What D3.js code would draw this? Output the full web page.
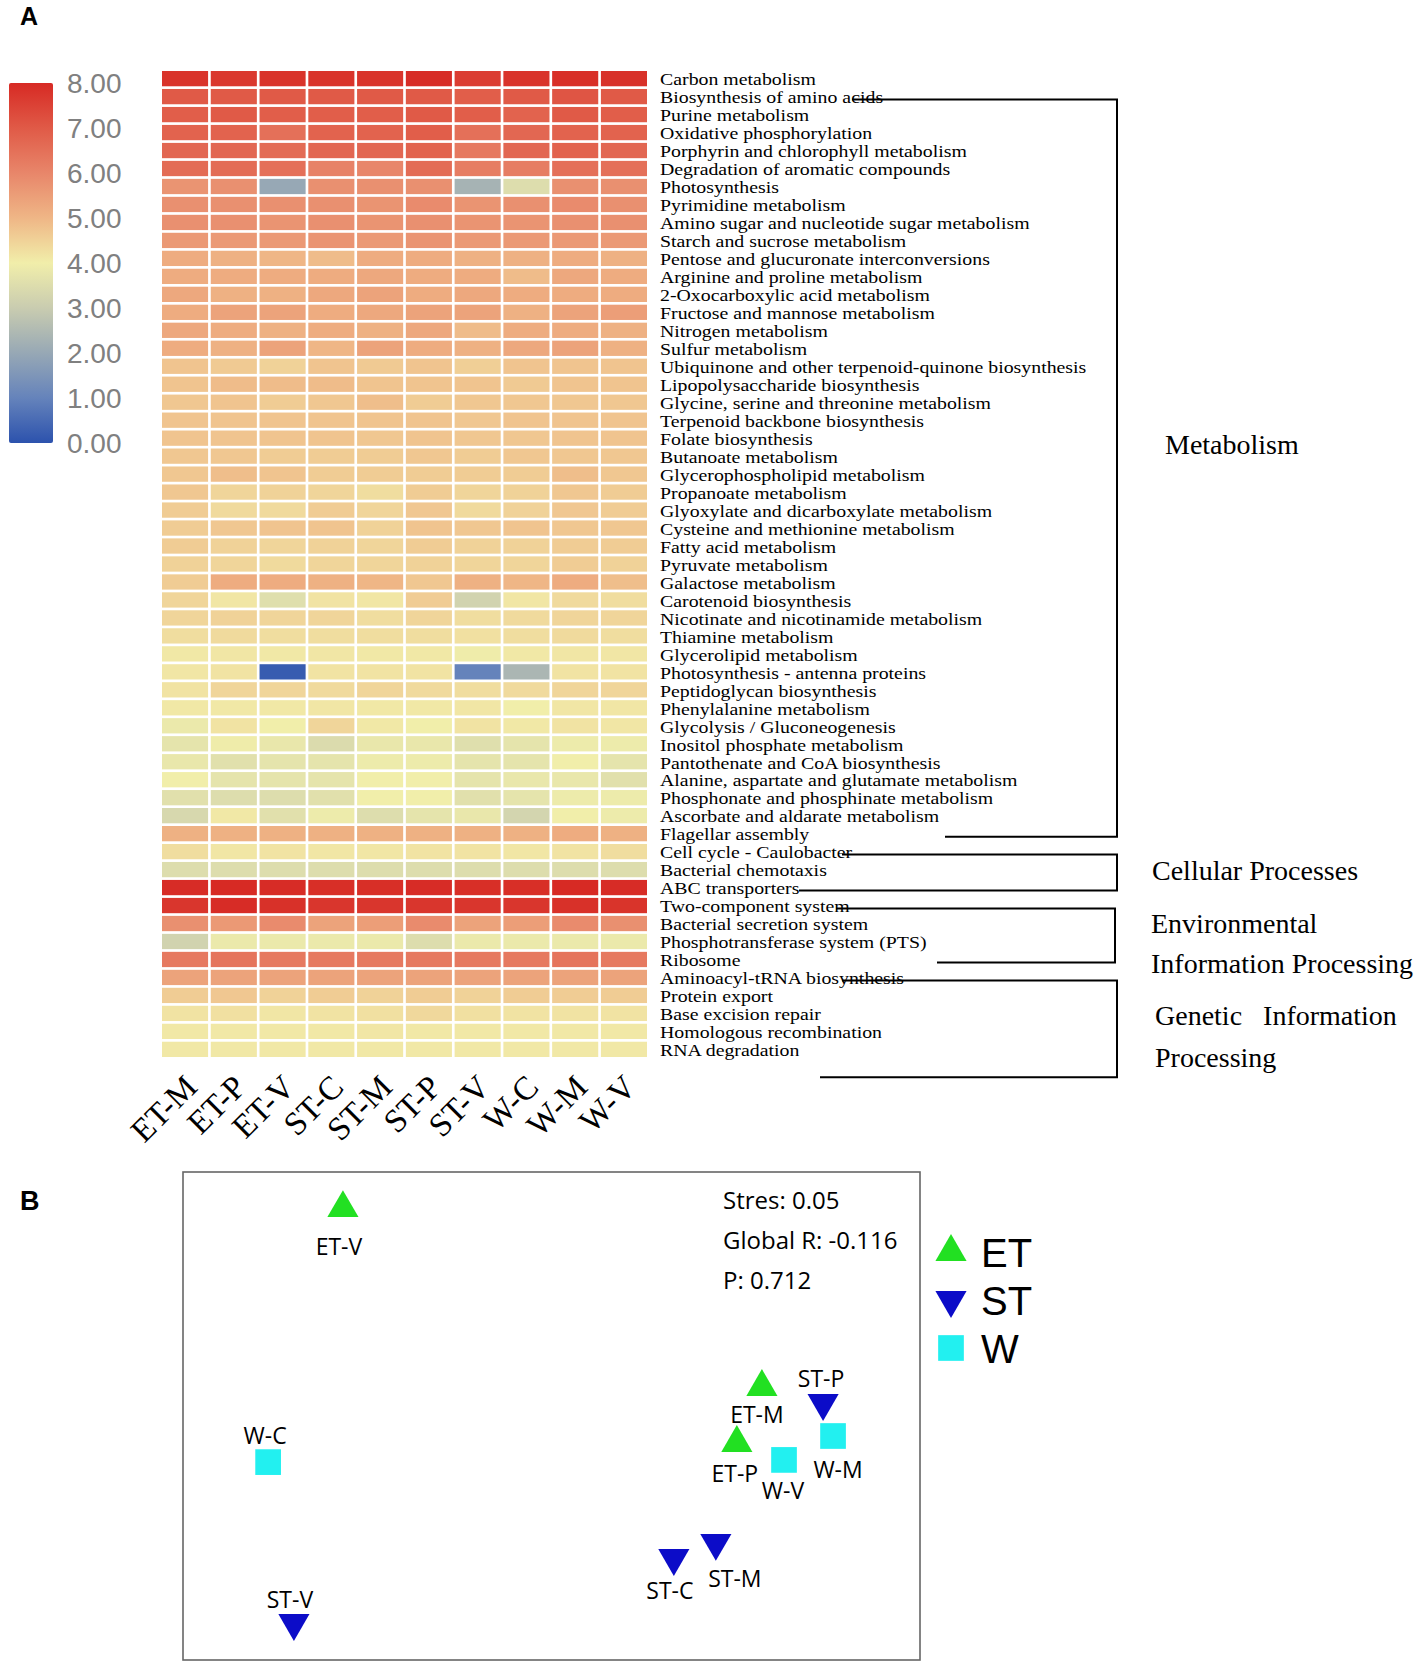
<!DOCTYPE html>
<html>
<head>
<meta charset="utf-8">
<script src="https://cdn.jsdelivr.net/npm/d3@7"></script>
<style>
	body { margin: 0; background: #fff; }
	svg { display: block; }
</style>
</head>
<body>
<div id="chart"></div>
<script>
// ---- data ----
var samples = ["ET-M", "ET-P", "ET-V", "ST-C", "ST-M", "ST-P", "ST-V", "W-C", "W-M", "W-V"];

var pathways = [
	"Carbon metabolism", "Biosynthesis of amino acids", "Purine metabolism", "Oxidative phosphorylation",
	"Porphyrin and chlorophyll metabolism", "Degradation of aromatic compounds", "Photosynthesis",
	"Pyrimidine metabolism", "Amino sugar and nucleotide sugar metabolism", "Starch and sucrose metabolism",
	"Pentose and glucuronate interconversions", "Arginine and proline metabolism", "2-Oxocarboxylic acid metabolism",
	"Fructose and mannose metabolism", "Nitrogen metabolism", "Sulfur metabolism",
	"Ubiquinone and other terpenoid-quinone biosynthesis", "Lipopolysaccharide biosynthesis",
	"Glycine, serine and threonine metabolism", "Terpenoid backbone biosynthesis", "Folate biosynthesis",
	"Butanoate metabolism", "Glycerophospholipid metabolism", "Propanoate metabolism",
	"Glyoxylate and dicarboxylate metabolism", "Cysteine and methionine metabolism", "Fatty acid metabolism",
	"Pyruvate metabolism", "Galactose metabolism", "Carotenoid biosynthesis", "Nicotinate and nicotinamide metabolism",
	"Thiamine metabolism", "Glycerolipid metabolism", "Photosynthesis - antenna proteins", "Peptidoglycan biosynthesis",
	"Phenylalanine metabolism", "Glycolysis / Gluconeogenesis", "Inositol phosphate metabolism",
	"Pantothenate and CoA biosynthesis", "Alanine, aspartate and glutamate metabolism",
	"Phosphonate and phosphinate metabolism", "Ascorbate and aldarate metabolism", "Flagellar assembly",
	"Cell cycle - Caulobacter", "Bacterial chemotaxis", "ABC transporters", "Two-component system",
	"Bacterial secretion system", "Phosphotransferase system (PTS)", "Ribosome", "Aminoacyl-tRNA biosynthesis",
	"Protein export", "Base excision repair", "Homologous recombination", "RNA degradation"
];

// one row per pathway, one value per sample (log abundance, 0-8)
var abundance = [
	[7.8, 7.7, 7.8, 7.8, 7.8, 7.95, 7.6, 7.8, 7.9, 7.85],
	[7.0, 7.0, 7.0, 7.0, 7.0, 7.0, 6.9, 7.0, 7.1, 7.0],
	[6.9, 7.0, 6.9, 6.9, 6.9, 7.0, 6.9, 6.8, 7.0, 6.9],
	[6.8, 6.8, 6.5, 6.8, 6.8, 6.9, 6.5, 6.7, 6.8, 6.8],
	[6.7, 6.7, 6.6, 6.7, 6.7, 6.8, 6.3, 6.7, 6.8, 6.7],
	[6.6, 6.6, 6.5, 6.1, 6.0, 6.6, 6.2, 6.2, 6.5, 6.5],
	[5.7, 5.8, 2.0, 5.8, 5.8, 5.8, 2.3, 3.5, 5.8, 5.8],
	[5.8, 5.8, 5.8, 5.8, 5.7, 5.9, 5.7, 5.8, 5.9, 5.8],
	[5.8, 5.8, 5.7, 5.8, 5.7, 5.8, 5.7, 5.7, 5.8, 5.8],
	[5.6, 5.6, 5.6, 5.7, 5.6, 5.7, 5.6, 5.6, 5.6, 5.6],
	[5.2, 5.1, 5.0, 4.9, 5.2, 5.2, 5.1, 5.1, 5.2, 5.1],
	[5.2, 5.2, 5.2, 5.2, 5.3, 5.2, 5.2, 4.9, 5.3, 5.2],
	[5.3, 5.1, 5.1, 5.3, 5.4, 5.2, 5.3, 5.2, 5.2, 5.2],
	[5.2, 5.4, 5.4, 5.2, 5.3, 5.4, 5.4, 5.1, 5.4, 5.5],
	[5.3, 5.2, 5.1, 5.2, 5.1, 5.3, 4.9, 5.2, 5.2, 5.1],
	[5.2, 5.1, 5.4, 5.0, 5.4, 5.2, 5.1, 5.3, 5.4, 5.1],
	[4.75, 4.65, 4.5, 4.75, 4.65, 4.75, 4.55, 4.75, 4.75, 4.75],
	[4.75, 4.9, 4.9, 4.9, 4.75, 4.75, 4.75, 4.65, 4.75, 4.75],
	[4.7, 4.75, 4.6, 4.7, 4.85, 4.6, 4.7, 4.7, 4.7, 4.7],
	[4.75, 4.75, 4.75, 4.75, 4.75, 4.75, 4.7, 4.75, 4.75, 4.75],
	[4.75, 4.75, 4.75, 4.75, 4.7, 4.75, 4.7, 4.7, 4.75, 4.75],
	[4.7, 4.7, 4.6, 4.6, 4.6, 4.7, 4.6, 4.7, 4.7, 4.7],
	[4.7, 4.85, 4.75, 4.6, 4.6, 4.6, 4.6, 4.6, 4.85, 4.7],
	[4.7, 4.45, 4.5, 4.45, 4.3, 4.6, 4.45, 4.5, 4.7, 4.6],
	[4.6, 4.35, 4.35, 4.6, 4.45, 4.7, 4.35, 4.5, 4.7, 4.6],
	[4.6, 4.7, 4.75, 4.75, 4.5, 4.75, 4.7, 4.75, 4.7, 4.7],
	[4.6, 4.5, 4.45, 4.5, 4.45, 4.6, 4.5, 4.5, 4.6, 4.6],
	[4.5, 4.45, 4.35, 4.45, 4.45, 4.5, 4.45, 4.45, 4.6, 4.5],
	[4.6, 5.2, 5.2, 5.1, 5.0, 4.7, 5.1, 5.0, 5.2, 4.85],
	[4.45, 4.15, 3.55, 4.2, 4.15, 4.6, 3.2, 4.15, 4.35, 4.3],
	[4.45, 4.5, 4.45, 4.45, 4.3, 4.45, 4.3, 4.35, 4.45, 4.45],
	[4.3, 4.35, 4.3, 4.3, 4.3, 4.3, 4.25, 4.3, 4.35, 4.3],
	[4.1, 4.15, 4.1, 4.15, 4.1, 4.1, 3.95, 4.1, 4.15, 4.15],
	[4.15, 4.2, 0.2, 4.2, 4.2, 4.2, 1.0, 2.4, 4.2, 4.2],
	[4.2, 4.45, 4.45, 4.35, 4.45, 4.35, 4.3, 4.35, 4.45, 4.45],
	[4.1, 4.1, 4.1, 4.15, 4.1, 4.1, 4.15, 4.0, 4.15, 4.15],
	[3.85, 4.2, 4.0, 4.45, 4.1, 4.0, 4.2, 4.1, 4.2, 4.15],
	[3.7, 3.95, 3.8, 3.45, 3.8, 3.8, 3.55, 3.7, 3.9, 3.9],
	[3.8, 3.6, 3.7, 3.7, 3.9, 3.9, 3.7, 3.7, 4.0, 3.7],
	[4.0, 3.7, 3.7, 3.7, 4.0, 4.0, 3.7, 3.8, 3.8, 3.6],
	[3.6, 3.5, 3.5, 3.6, 4.0, 4.0, 3.6, 3.7, 3.9, 3.9],
	[3.35, 4.1, 3.6, 3.9, 3.5, 3.7, 3.8, 3.25, 4.0, 3.9],
	[5.1, 5.1, 5.1, 5.1, 5.1, 5.1, 5.1, 5.1, 5.2, 5.1],
	[4.3, 4.15, 4.2, 4.15, 4.15, 4.2, 4.2, 4.15, 4.2, 4.3],
	[3.5, 3.5, 3.5, 3.5, 3.5, 3.5, 3.5, 3.5, 3.5, 3.5],
	[7.95, 8.0, 7.95, 7.9, 7.9, 7.95, 7.9, 7.9, 8.0, 7.95],
	[7.75, 7.95, 7.85, 7.75, 7.75, 7.75, 7.75, 7.75, 7.85, 7.8],
	[5.8, 5.6, 5.9, 5.4, 5.5, 5.9, 5.4, 5.5, 5.9, 5.8],
	[3.2, 3.85, 3.85, 3.85, 3.85, 3.5, 3.85, 3.85, 3.85, 3.85],
	[6.3, 6.4, 6.3, 6.3, 6.3, 6.3, 6.3, 6.3, 6.4, 6.3],
	[5.4, 5.4, 5.4, 5.4, 5.4, 5.4, 5.4, 5.4, 5.4, 5.4],
	[4.6, 4.7, 4.5, 4.6, 4.5, 4.6, 4.5, 4.6, 4.6, 4.6],
	[4.2, 4.25, 4.15, 4.2, 4.25, 4.4, 4.25, 4.2, 4.2, 4.2],
	[4.1, 4.1, 4.1, 4.1, 4.15, 4.1, 4.1, 4.1, 4.1, 4.1],
	[4.1, 4.1, 4.1, 4.1, 4.1, 4.1, 4.1, 4.1, 4.1, 4.1]
];

var legendTicks = [0, 1, 2, 3, 4, 5, 6, 7, 8];
var legendColors = ["#2c52ad", "#6583bb", "#97a8b5", "#c9ccb0", "#f1eeaa", "#efb686", "#e8866a", "#e05a47", "#d72a24"];

// KEGG level-1 groups, first and last pathway of each bracket
var groupLabels = [["Metabolism"], ["Cellular Processes"], ["Environmental", "Information Processing"], ["Genetic   Information", "Processing"]];
var groupFirst = ["Biosynthesis of amino acids", "Cell cycle - Caulobacter", "Two-component system", "Aminoacyl-tRNA biosynthesis"];
var groupLast = ["Flagellar assembly", "ABC transporters", "Ribosome", "RNA degradation"];

// NMDS ordination
var nmdsNames = ["ET-M", "ET-P", "ET-V", "ST-C", "ST-M", "ST-P", "ST-V", "W-C", "W-M", "W-V"];
var nmdsGroup = ["ET", "ET", "ET", "ST", "ST", "ST", "ST", "W", "W", "W"];
var nmdsX = [0.571, 0.503, -0.566, 0.332, 0.446, 0.737, -0.699, -0.769, 0.764, 0.631];
var nmdsY = [0.119, -0.111, 0.852, -0.582, -0.520, 0.053, -0.848, -0.189, -0.082, -0.180];
var statLines = ["Stres: 0.05", "Global R: -0.116", "P: 0.712"];
var groups = ["ET", "ST", "W"];

// ---- layout / style (not data) ----
var bracketLayout = [
	{topX: 852, botX: 945, lineX: 1117, text: [[1165, 444]]},
	{topX: 842, botX: 799, lineX: 1117, text: [[1152, 870]]},
	{topX: 836, botX: 937, lineX: 1115, text: [[1151, 923], [1151, 963]]},
	{topX: 842, botX: 820, lineX: 1117, text: [[1155, 1015], [1155, 1057]], bottomPad: 25}
];
var labelOffset = {
	"ET-V": [-4, 47], "ET-M": [-5, 36], "ET-P": [-2, 39], "ST-P": [-2, -16], "W-M": [5, 42],
	"W-V": [-1, 39], "W-C": [-3, -18], "ST-V": [-4, -15], "ST-C": [-4, 41], "ST-M": [19, 44]
};
var groupColor = {ET: "#22e022", ST: "#0c0cc8", W: "#22f0f0"};
var groupShape = {ET: "up", ST: "down", W: "square"};

class HeatMap {
	constructor(svg){
		this.svg = svg;
		this.left = 162; this.right = 647;
		this.top = 71; this.bottom = 1057;
		this.color = d3.scaleLinear().domain(legendTicks).range(legendColors).interpolate(d3.interpolateRgb);
		this.x = d3.scaleBand().domain(samples).range([this.left, this.right]).paddingInner(0.055);
		this.y = d3.scaleBand().domain(pathways).range([this.top, this.bottom]).paddingInner(0.15);
		this.drawCells();
		this.drawLabels();
		this.drawLegend();
		this.drawBrackets();
	}

	drawCells(){
		var cells = [];
		abundance.forEach(function(row, i){
			row.forEach(function(v, j){
				cells.push({pathway: pathways[i], sample: samples[j], value: v});
			});
		});
		this.svg.append("g").selectAll("rect")
			.data(cells)
			.enter().append("rect")
			.attr("x", d => this.x(d.sample))
			.attr("y", d => this.y(d.pathway))
			.attr("width", this.x.bandwidth())
			.attr("height", this.y.bandwidth())
			.attr("fill", d => this.color(d.value));
	}

	drawLabels(){
		var y = this.y, lx = this.right + 13;
		// rows are tight: smaller type, stretched sideways to the original line length
		this.svg.append("g").selectAll("text")
			.data(pathways)
			.enter().append("text")
			.attr("transform", d => "translate(" + lx + "," + (y(d) + y.bandwidth() / 2 + 1) + ") scale(1.24,1)")
			.attr("dy", "0.36em")
			.style("font-family", "'Liberation Serif', 'Times New Roman', serif")
			.style("font-size", "16px")
			.text(d => d);
		// rotated sample names under the grid
		var x = this.x;
		this.svg.append("g").selectAll("text")
			.data(samples)
			.enter().append("text")
			.attr("text-anchor", "end")
			.attr("transform", d => "translate(" + (x(d) + x.bandwidth() / 2 + 14) + "," + (this.bottom + 32) + ") rotate(-45)")
			.style("font-family", "'Liberation Serif', 'Times New Roman', serif")
			.style("font-size", "33px")
			.text(d => d);
	}

	drawLegend(){
		var ly = d3.scaleLinear().domain([0, 8]).range([443, 83]);
		var grad = this.svg.append("defs").append("linearGradient")
			.attr("id", "cbar")
			.attr("x1", 0).attr("y1", 1).attr("x2", 0).attr("y2", 0);
		legendTicks.forEach(function(t, i){
			grad.append("stop").attr("offset", t / 8).attr("stop-color", legendColors[i]);
		});
		this.svg.append("rect")
			.attr("x", 9).attr("y", ly(8))
			.attr("width", 44).attr("height", ly(0) - ly(8))
			.attr("rx", 2)
			.attr("fill", "url(#cbar)");
		this.svg.append("g").selectAll("text")
			.data(legendTicks)
			.enter().append("text")
			.attr("x", 67)
			.attr("y", d => ly(d))
			.attr("dy", "0.36em")
			.attr("fill", "#808080")
			.style("font-family", "'Liberation Sans', Arial, sans-serif")
			.style("font-size", "28px")
			.text(d => d3.format(".2f")(d));
	}

	drawBrackets(){
		var y = this.y, h = y.bandwidth() / 2 + 3;
		var g = this.svg.append("g");
		groupLabels.forEach(function(lines, i){
			var L = bracketLayout[i];
			var y0 = y(groupFirst[i]) + h, y1 = y(groupLast[i]) + h + (L.bottomPad || 0);
			g.append("path")
				.attr("d", "M" + L.topX + "," + y0 + "H" + L.lineX + "V" + y1 + "H" + L.botX)
				.attr("fill", "none")
				.attr("stroke", "#000")
				.attr("stroke-width", 2);
			lines.forEach(function(t, k){
				g.append("text")
					.attr("x", L.text[k][0])
					.attr("y", L.text[k][1])
					.attr("dy", "0.36em")
					.attr("xml:space", "preserve")
					.style("white-space", "pre")
					.style("font-family", "'Liberation Serif', 'Times New Roman', serif")
					.style("font-size", "28px")
					.text(t);
			});
		});
	}
}

class NmdsPlot {
	constructor(svg){
		this.svg = svg;
		this.x = d3.scaleLinear().domain([-1, 1]).range([183, 920]);
		this.y = d3.scaleLinear().domain([-1, 1]).range([1660, 1172]);
		this.points = nmdsNames.map(function(n, i){
			return {name: n, group: nmdsGroup[i], x: nmdsX[i], y: nmdsY[i]};
		});
		this.drawFrame();
		this.drawPoints();
		this.drawLegend();
	}

	symbolPath(shape){
		if(shape == "square") return d3.symbol().type(d3.symbolSquare).size(660)();
		return d3.symbol().type(d3.symbolTriangle).size(420)();
	}

	drawFrame(){
		this.svg.append("rect")
			.attr("x", this.x(-1)).attr("y", this.y(1))
			.attr("width", this.x(1) - this.x(-1))
			.attr("height", this.y(-1) - this.y(1))
			.attr("fill", "none")
			.attr("stroke", "#666")
			.attr("stroke-width", 1.6);
		this.svg.append("g").selectAll("text")
			.data(statLines)
			.enter().append("text")
			.attr("x", 723)
			.attr("y", (d, i) => 1209 + i * 40)
			.style("font-family", "'Open Sans', 'Noto Sans', sans-serif")
			.style("font-size", "24px")
			.text(d => d);
	}

	drawPoints(){
		var self = this;
		var g = this.svg.append("g").selectAll("g")
			.data(this.points)
			.enter().append("g")
			.attr("transform", d => "translate(" + self.x(d.x) + "," + self.y(d.y) + ")");
		g.append("path")
			.attr("d", d => self.symbolPath(groupShape[d.group]))
			.attr("transform", d => groupShape[d.group] == "down" ? "rotate(180)" : null)
			.attr("fill", d => groupColor[d.group]);
		g.append("text")
			.attr("x", d => labelOffset[d.name][0])
			.attr("y", d => labelOffset[d.name][1])
			.attr("text-anchor", "middle")
			.style("font-family", "'Open Sans', 'Noto Sans', sans-serif")
			.style("font-size", "23px")
			.text(d => d.name);
	}

	drawLegend(){
		var self = this;
		var g = this.svg.append("g").selectAll("g")
			.data(groups)
			.enter().append("g")
			.attr("transform", (d, i) => "translate(951," + (1252 + i * 48) + ")");
		g.append("path")
			.attr("d", d => self.symbolPath(groupShape[d]))
			.attr("transform", d => groupShape[d] == "down" ? "rotate(180)" : null)
			.attr("fill", d => groupColor[d]);
		g.append("text")
			.attr("x", 30)
			.attr("y", 15)
			.style("font-family", "'Liberation Sans', Arial, sans-serif")
			.style("font-size", "40px")
			.text(d => d);
	}
}

var svg = d3.select("#chart").append("svg")
	.attr("width", 1417)
	.attr("height", 1674);

// panel letters
svg.append("text").attr("x", 20).attr("y", 25)
	.style("font-family", "'Liberation Sans', Arial, sans-serif")
	.style("font-weight", "bold").style("font-size", "25px").text("A");
svg.append("text").attr("x", 20).attr("y", 1210)
	.style("font-family", "'Liberation Sans', Arial, sans-serif")
	.style("font-weight", "bold").style("font-size", "27px").text("B");

var heat = new HeatMap(svg);
var nmds = new NmdsPlot(svg);
</script>
</body>
</html>
